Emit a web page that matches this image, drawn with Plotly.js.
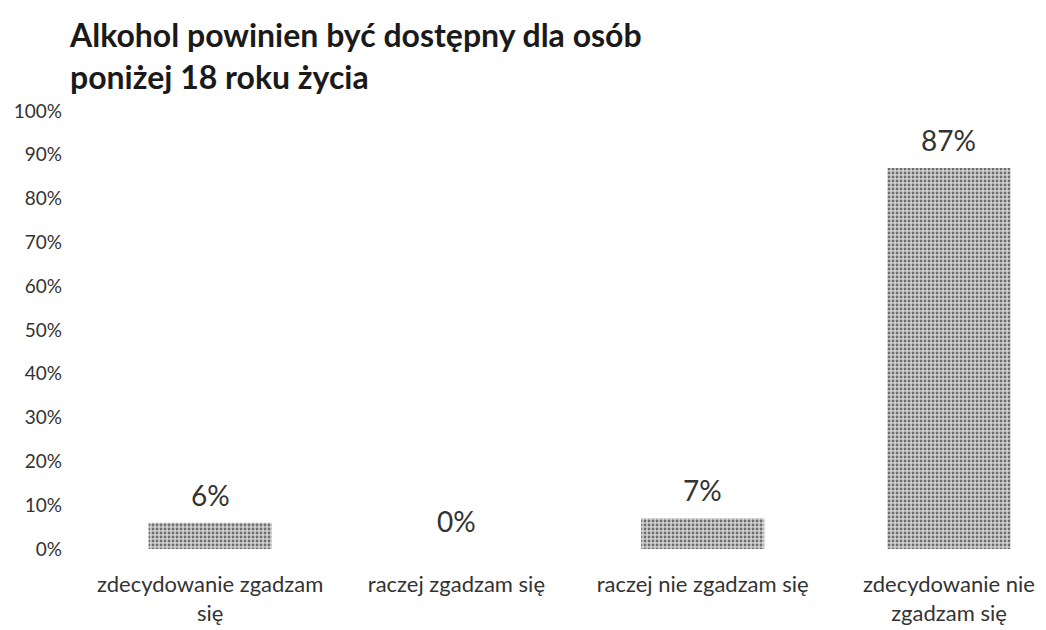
<!DOCTYPE html>
<html>
<head>
<meta charset="utf-8">
<script src="https://cdn.plot.ly/plotly-3.0.1.min.js"></script>
<style>html,body{margin:0;padding:0;background:#fff;}#chart{width:1046px;height:630px;}</style>
</head>
<body>
<div id="chart"></div>
<script>
const categories = ["zdecydowanie zgadzam<br>się", "raczej zgadzam się", "raczej nie zgadzam się", "zdecydowanie nie<br>zgadzam się"];
const values = [0.06, 0.00, 0.07, 0.87];
const valueLabels = ["6%", "0%", "7%", "87%"];
const yTickVals = [0, 0.1, 0.2, 0.3, 0.4, 0.5, 0.6, 0.7, 0.8, 0.9, 1.0];
const yTickText = ["0%", "10%", "20%", "30%", "40%", "50%", "60%", "70%", "80%", "90%", "100%"];
const titleText = "Alkohol powinien być dostępny dla osób<br>poniżej 18 roku życia";

const xIdx = categories.map((c, i) => i);

const trace = {
  type: "bar",
  x: xIdx,
  y: values,
  width: 0.5,
  marker: {
    color: "#b4b4b4",
    line: {width: 0},
    pattern: {shape: ".", fgcolor: "#6e6e6e", bgcolor: "#d2d2d2", size: 4, solidity: 0.4, fillmode: "replace"}
  },
  hoverinfo: "skip"
};

const annotations = values.map((v, i) => ({
  x: i, y: v, xref: "x", yref: "y",
  text: valueLabels[i], showarrow: false,
  yanchor: "middle", yshift: 28,
  font: {family: "Lato, 'Open Sans', sans-serif", size: 28, color: "#333333"}
}));

const layout = {
  width: 1046, height: 630,
  paper_bgcolor: "#ffffff", plot_bgcolor: "#ffffff",
  margin: {l: 87, r: 0, t: 111, b: 81},
  showlegend: false,
  title: {
    text: titleText,
    x: 70/1046, xanchor: "left", xref: "container",
    y: 1 - 47/630, yanchor: "top", yref: "container",
    font: {family: "Lato, 'Open Sans', sans-serif", size: 32, color: "#1a1a1a", weight: "bold"}
  },
  xaxis: {
    range: [-0.5, 3.394],
    tickvals: xIdx, ticktext: categories,
    showgrid: false, zeroline: false, showline: false, ticks: "",
    ticklabelstandoff: 20,
    tickfont: {family: "Lato, 'Open Sans', sans-serif", size: 22, color: "#333333"},
    fixedrange: true
  },
  yaxis: {
    range: [0, 1],
    tickvals: yTickVals, ticktext: yTickText,
    showgrid: false, zeroline: false, showline: false, ticks: "",
    ticklabelstandoff: 24,
    tickfont: {family: "Lato, 'Open Sans', sans-serif", size: 19, color: "#333333"},
    fixedrange: true
  },
  annotations: annotations
};

Plotly.newPlot("chart", [trace], layout, {displayModeBar: false, staticPlot: true});
</script>
</body>
</html>
